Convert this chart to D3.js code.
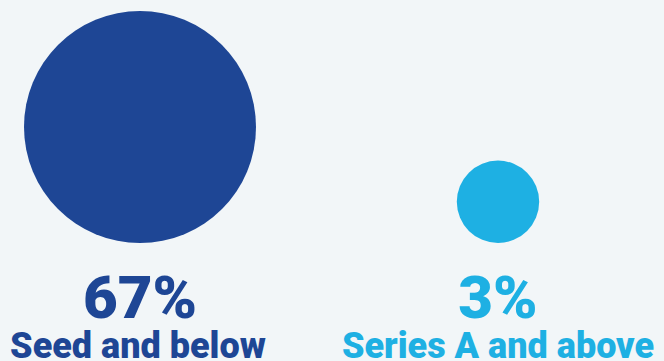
<!DOCTYPE html>
<html>
<head>
<meta charset="utf-8">
<script src="https://cdn.jsdelivr.net/npm/d3@7"></script>
<style>
  html, body { margin: 0; padding: 0; background: #f2f6f8; }
  svg { display: block; }
  text { font-family: "Roboto", "Open Sans", sans-serif; font-weight: 900; }
</style>
</head>
<body>
<svg id="chart" width="664" height="361"></svg>
<script>
// Share of funding by stage
const categories = ["Seed and below", "Series A and above"];
const shares = [67, 3];
const valueLabels = ["67%", "3%"];
const colors = ["#1e4695", "#1eb0e3"];

const width = 664, height = 361;
const svg = d3.select("#chart");

// Horizontal placement of each bubble
const x = d3.scalePoint().domain(categories).range([140, 498]);

// Bubble radius grows with share
const r = d3.scalePow().exponent(1 / 3).domain([0, 67]).range([0, 116]);

const baseY = 243; // bubbles sit on a common bottom line

const g = svg.selectAll("g.item")
  .data(categories.map((c, i) => ({ c, v: shares[i], label: valueLabels[i], color: colors[i] })))
  .join("g")
  .attr("class", "item");

g.append("circle")
  .attr("cx", d => x(d.c))
  .attr("cy", d => baseY - r(d.v))
  .attr("r", d => r(d.v))
  .attr("fill", d => d.color);

g.append("text")
  .attr("x", d => x(d.c))
  .attr("y", 318)
  .attr("text-anchor", "middle")
  .attr("font-size", 60)
  .attr("fill", d => d.color)
  .text(d => d.label);

g.append("text")
  .attr("x", d => x(d.c) - (d.c === categories[0] ? 2 : 0))
  .attr("y", 358)
  .attr("text-anchor", "middle")
  .attr("font-size", 36)
  .attr("fill", d => d.color)
  .text(d => d.c);
</script>
</body>
</html>
